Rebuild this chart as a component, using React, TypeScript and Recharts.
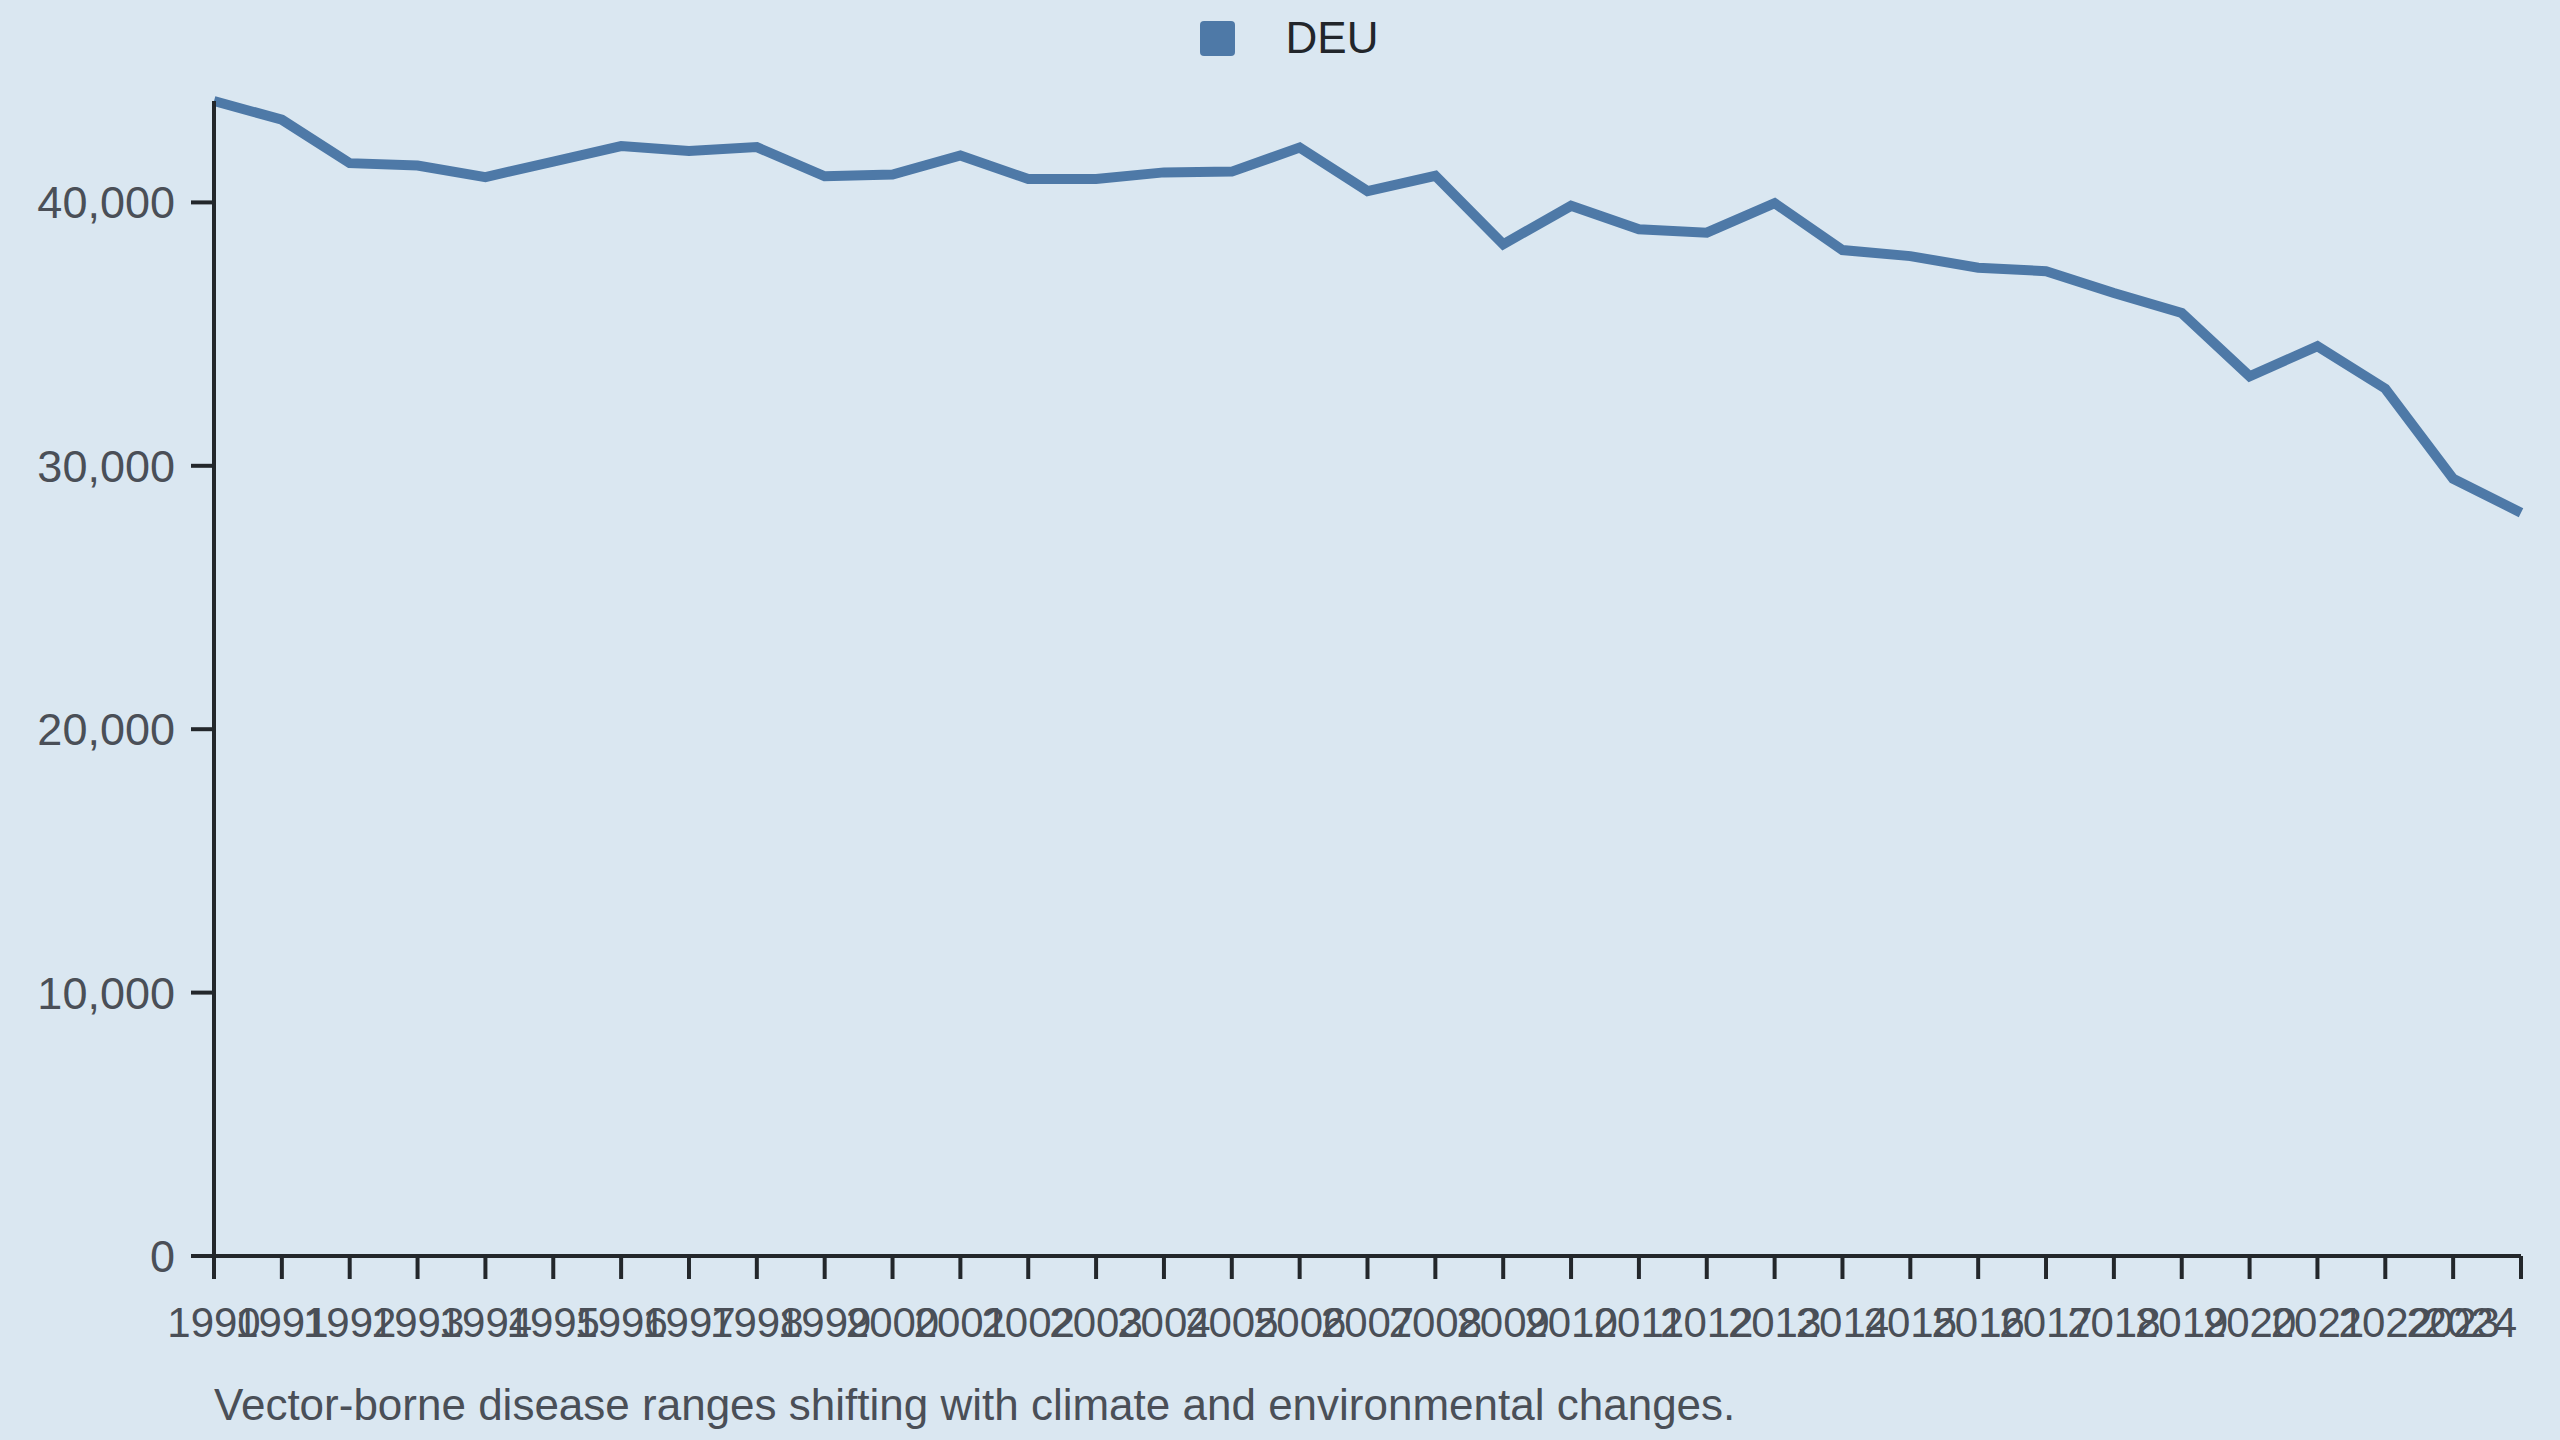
import { Legend, Line, LineChart, XAxis, YAxis } from "recharts";

const years = [
  "1990", "1991", "1992", "1993", "1994", "1995", "1996", "1997", "1998", "1999",
  "2000", "2001", "2002", "2003", "2004", "2005", "2006", "2007", "2008", "2009",
  "2010", "2011", "2012", "2013", "2014", "2015", "2016", "2017", "2018", "2019",
  "2020", "2021", "2022", "2023", "2024",
];
const deuValues = [
  43850, 43140, 41490, 41400, 40960, 41550, 42140, 41950, 42100, 40990,
  41060, 41780, 40890, 40890, 41140, 41170, 42080, 40430, 41010, 38410,
  39870, 38980, 38850, 39970, 38190, 37960, 37520, 37390, 36560, 35800,
  33400, 34540, 32930, 29510, 28220,
];
const yTicks = [0, 10000, 20000, 30000, 40000];
const seriesName = "DEU";
const caption = "Vector-borne disease ranges shifting with climate and environmental changes.";

const data = years.map((year, i) => ({ year, deu: deuValues[i] }));

const BG = "#dae7f1";
const LINE = "#4e79a7";
const AXIS = "#23272b";
const TEXT = "#4a4f57";
const FONT = "'Liberation Sans', Arial, sans-serif";

function LegendContent() {
  return (
    <div
      style={{
        height: 76,
        display: "flex",
        alignItems: "center",
        justifyContent: "center",
        paddingLeft: 18,
        fontFamily: FONT,
      }}
    >
      <span
        style={{
          width: 35,
          height: 35,
          borderRadius: 4,
          background: LINE,
          display: "inline-block",
          marginRight: 51,
        }}
      />
      <span style={{ fontSize: 44, color: "#22262b" }}>{seriesName}</span>
    </div>
  );
}

// last year label is pulled inside the chart, like the reference
function YearTick(props: any) {
  const { x, y, payload, index } = props;
  const last = index === years.length - 1;
  return (
    <text
      x={last ? x - 4 : x}
      y={y}
      dy="0.71em"
      textAnchor={last ? "end" : "middle"}
      fontSize={42}
      fill={TEXT}
      fontFamily={FONT}
    >
      {payload.value}
    </text>
  );
}

export default function App() {
  return (
    <div
      style={{
        position: "absolute",
        left: 0,
        top: 0,
        width: 2560,
        height: 1440,
        background: BG,
        fontFamily: FONT,
      }}
    >
      <LineChart
        width={2560}
        height={1440}
        data={data}
        margin={{ top: 25, right: 39, bottom: 0, left: 0 }}
      >
        <Legend
          verticalAlign="top"
          align="center"
          content={() => <LegendContent />}
          wrapperStyle={{ top: 0, left: 0, width: 2560 }}
        />
        <XAxis
          dataKey="year"
          interval={0}
          height={184}
          tickSize={23}
          tickMargin={28}
          axisLine={{ stroke: AXIS, strokeWidth: 4 }}
          tickLine={{ stroke: AXIS, strokeWidth: 4 }}
          tick={<YearTick />}
        />
        <YAxis
          width={214}
          domain={[0, "dataMax"]}
          ticks={yTicks}
          tickSize={23}
          tickMargin={16}
          axisLine={{ stroke: AXIS, strokeWidth: 4 }}
          tickLine={{ stroke: AXIS, strokeWidth: 4 }}
          tick={{ fontSize: 45, fill: TEXT, fontFamily: FONT }}
          tickFormatter={(v: number) => v.toLocaleString("en-US")}
        />
        <Line
          type="linear"
          dataKey="deu"
          name={seriesName}
          stroke={LINE}
          strokeWidth={10}
          dot={false}
          activeDot={false}
          isAnimationActive={false}
        />
      </LineChart>
      <div
        style={{
          position: "absolute",
          left: 214,
          top: 1380,
          fontSize: 44,
          color: TEXT,
          fontFamily: FONT,
          whiteSpace: "nowrap",
        }}
      >
        {caption}
      </div>
    </div>
  );
}
